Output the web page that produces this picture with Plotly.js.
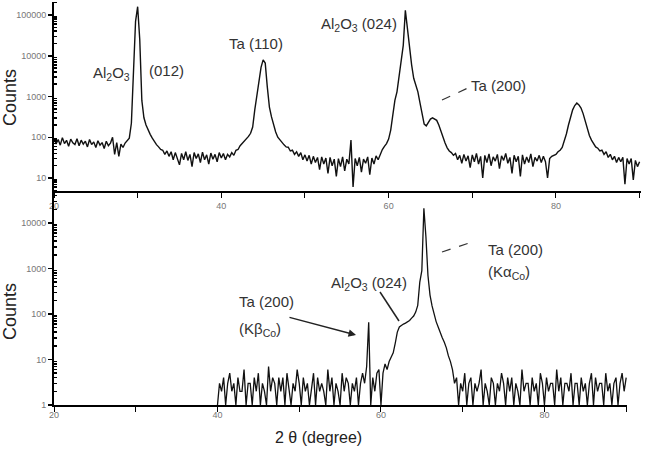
<!DOCTYPE html>
<html><head><meta charset="utf-8">
<script src="https://cdn.plot.ly/plotly-3.0.1.min.js"></script>
<style>html,body{margin:0;padding:0;background:#fff}#chart{width:648px;height:449px}</style>
</head><body><div id="chart"></div>
<script>
// Scan grids (2θ in degrees)
const topStart = 20, bottomStart = 40, stepDeg = 0.25;

// Upper scan counts, 20.00° .. 90.00° every 0.25°
const countsTop = [
 95,68,88,64, 98,70,84,60, 90,73,66,92, 62,85,68,80, 58,88,66,77,
 56,82,64,74, 53,80,62,72, 100,38,74,34, 68,56,72,85, 95,220,3000,70000,
 160000,25000,800,300, 200,150,118,95, 76,66,58,50, 48,38,46,34, 44,28,42,31,
 21,40,28,44, 27,38,19,42, 30,39,24,43, 28,37,22,41, 29,38,25,42,
 31,40,28,38, 33,42,36,48, 50,62,70,80, 90,105,125,178, 470,980,2500,5200,
 7900,6600,1700,550, 316,200,135,100, 85,72,65,58, 57,46,48,38, 44,34,42,28,
 37,26,36,22, 34,24,32,16, 33,22,31,13, 32,20,29,11, 30,19,33,15,
 29,22,85,6, 30,20,32,14, 29,23,33,12, 31,22,35,28, 40,50,60,70,
 90,150,350,800, 1300,3000,7000,18000, 130000,45000,15000,6000, 2800,1800,1300,700, 380,210,190,230,
 280,300,285,260, 200,140,95,72, 55,46,42,36, 40,28,36,23, 38,26,35,18,
 37,25,40,22, 34,10,36,24, 39,20,33,26, 38,17,35,27, 40,23,32,13,
 36,25,34,11, 37,22,33,24, 39,19,32,26, 36,24,34,25, 10,30,34,36,
 38,44,48,56, 80,120,200,330, 470,600,690,620, 520,380,240,150, 110,85,70,58,
 54,46,48,38, 44,32,38,28, 34,24,32,25, 32,7,30,22, 30,9,27,19,
 25
];

// Lower scan counts, 40.00° .. 90.00° every 0.25°
const countsBottom = [
 1,3,2,4, 1,3,5,2, 3,1,4,2, 2,6,1,3, 3,1,4,2,
 5,1,3,2, 1,7,2,4, 3,1,4,2, 4,1,5,2, 1,3,2,6,
 3,1,4,2, 3,1,2,5, 1,4,2,3, 2,1,6,2, 4,1,3,2,
 1,5,2,4, 3,1,3,2, 4,1,3,5, 3,7,66,1, 4,2,5,6,
 1,5,8,6, 9,11,14,23, 40,52,57,60, 63,66,72,81, 90,110,155,500,
 900,21000,5000,700, 260,150,95,68, 52,38,30,24, 18,12,9,6, 3,4,1,3,
 2,5,1,3, 4,1,3,2, 3,6,1,3, 2,1,4,3, 1,3,2,5,
 3,1,4,2, 4,1,3,2, 1,6,2,3, 3,1,4,2, 3,1,5,3,
 1,4,2,3, 3,1,6,2, 4,1,3,3, 2,5,1,3, 3,1,4,2,
 3,1,3,5, 1,4,2,3, 3,1,5,2, 3,1,3,4, 1,3,5,2,
 4
];

const xTickVals = [20,30,40,50,60,70,80,90];
const xTickText = ['20','','40','','60','','80',''];
const yTickTop = [10,100,1000,10000,100000];
const yTickTopText = ['10','100','1000','10000','100000'];
const yTickBottom = [1,10,100,1000,10000];
const yTickBottomText = ['1','10','100','1000','10000'];

const xTop = countsTop.map((_, i) => topStart + i * stepDeg);
const xBottom = countsBottom.map((_, i) => bottomStart + i * stepDeg);

// pixel -> paper helpers for text placement
const W = 648, H = 449, L = 54, R = 7, T = 2, B = 44;
const PW = W - L - R, PH = H - T - B;
const px = x => (x - L) / PW;
const py = y => (H - B - y) / PH;
const split = py(191);

function minorLog(lo, hi) {
  const out = [];
  for (let e = lo; e < hi; e++) for (let d = 2; d <= 9; d++) out.push(d * Math.pow(10, e));
  return out;
}

const traces = [
  {x: xTop, y: countsTop, type: 'scatter', mode: 'lines', line: {color: '#111', width: 1.4},
   xaxis: 'x', yaxis: 'y', hoverinfo: 'skip'},
  {x: xBottom, y: countsBottom, type: 'scatter', mode: 'lines', line: {color: '#111', width: 1.3},
   xaxis: 'x2', yaxis: 'y2', hoverinfo: 'skip'}
];

const tickFont = {family: 'Liberation Sans, Arial, sans-serif', size: 9, color: '#777'};
const xCommon = {
  tickvals: xTickVals, ticktext: xTickText, ticks: 'outside', ticklen: 5, tickwidth: 1, tickcolor: '#000',
  showline: true, linecolor: '#000', linewidth: 2, showgrid: false, zeroline: false, tickfont: tickFont
};
const yCommon = {
  type: 'log', ticks: 'outside', ticklen: 4, tickwidth: 1.5, tickcolor: '#000',
  showline: true, linecolor: '#000', linewidth: 2, showgrid: false, zeroline: false, tickfont: tickFont
};

const labFont = {family: 'Liberation Sans, Arial, sans-serif', size: 15, color: '#333'};
function lab(text, x, y, extra) {
  return Object.assign({text: text, xref: 'paper', yref: 'paper', x: px(x), y: py(y),
    xanchor: 'left', yanchor: 'middle', showarrow: false, font: labFont}, extra || {});
}

const layout = {
  width: W, height: H,
  margin: {l: L, r: R, t: T, b: B},
  paper_bgcolor: '#fff', plot_bgcolor: '#fff',
  showlegend: false,
  xaxis: Object.assign({}, xCommon, {domain: [0, 1], range: [20, 90.17], anchor: 'y'}),
  yaxis: Object.assign({}, yCommon, {domain: [split, 1], range: [0.681, 5.319], anchor: 'x',
    tickvals: yTickTop, ticktext: yTickTopText,
    minor: {tickvals: minorLog(0, 6), ticks: 'inside', ticklen: 3, tickcolor: '#000'}}),
  xaxis2: Object.assign({}, xCommon, {domain: [0, px(627)], range: [20, 90.1], anchor: 'y2',
    ticklabelstandoff: -5}),
  yaxis2: Object.assign({}, yCommon, {domain: [0, split], range: [0, 4.703], anchor: 'x2',
    tickvals: yTickBottom, ticktext: yTickBottomText,
    minor: {tickvals: minorLog(0, 5), ticks: 'inside', ticklen: 3, tickcolor: '#000'}}),
  annotations: [
    lab('Counts', 10, 98, {xanchor: 'center', textangle: -90, font: {family: 'Liberation Sans, Arial, sans-serif', size: 18, color: '#222'}}),
    lab('Counts', 10, 312, {xanchor: 'center', textangle: -90, font: {family: 'Liberation Sans, Arial, sans-serif', size: 18, color: '#222'}}),
    lab('2 θ (degree)', 318, 437, {xanchor: 'center', font: {family: 'Liberation Sans, Arial, sans-serif', size: 16, color: '#222'}}),
    lab('Al<sub>2</sub>O<sub>3</sub>', 91, 73),
    lab('(012)', 147, 70),
    lab('Ta (110)', 227, 44),
    lab('Al<sub>2</sub>O<sub>3</sub> (024)', 319, 25),
    lab('Ta (200)', 469, 86),
    lab('Ta (200)', 486, 249),
    lab('(Kα<sub>Co</sub>)', 486, 272),
    lab('Al<sub>2</sub>O<sub>3</sub> (024)', 329, 283),
    lab('Ta (200)', 237, 302),
    lab('(Kβ<sub>Co</sub>)', 237, 329),
    {text: '', xref: 'paper', yref: 'paper', x: px(356), y: py(335), showarrow: true,
     axref: 'pixel', ayref: 'pixel', ax: 288 - 356, ay: 317 - 335,
     arrowhead: 2, arrowsize: 1, arrowwidth: 1.5, arrowcolor: '#222'}
  ],
  shapes: [
    {type: 'line', xref: 'paper', yref: 'paper', x0: px(442), y0: py(100), x1: px(470), y1: py(87),
     line: {color: '#333', width: 1.2, dash: 'dash'}},
    {type: 'line', xref: 'paper', yref: 'paper', x0: px(442), y0: py(252), x1: px(475), y1: py(241),
     line: {color: '#333', width: 1.2, dash: 'dash'}},
    {type: 'line', xref: 'paper', yref: 'paper', x0: px(380), y0: py(292), x1: px(399), y1: py(321),
     line: {color: '#222', width: 1.5}}
  ]
};

Plotly.newPlot('chart', traces, layout, {staticPlot: true, displayModeBar: false});
</script>
</body></html>
